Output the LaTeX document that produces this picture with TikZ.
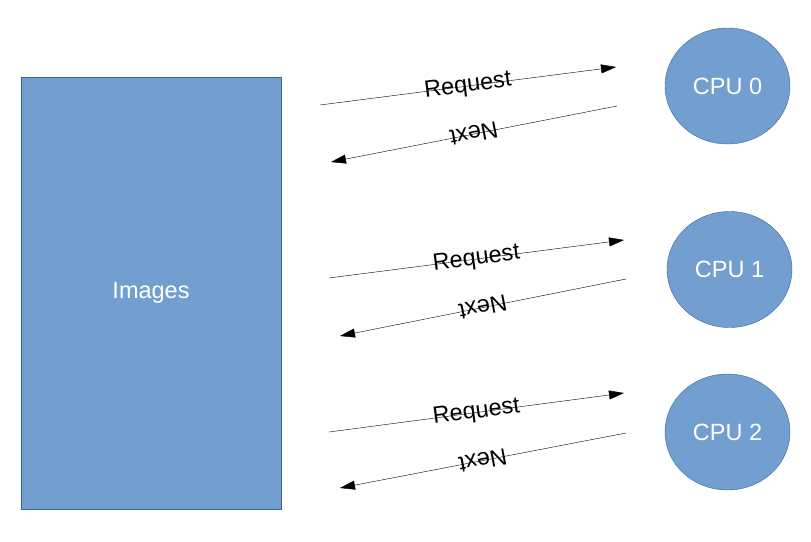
\documentclass[tikz,border=0pt]{standalone}
\usepackage{fontspec}
\setmainfont{Liberation Sans}
\usetikzlibrary{shapes.geometric, arrows.meta, positioning}
\definecolor{boxfill}{HTML}{729FCF}
\definecolor{boxline}{HTML}{3465A4}
\tikzstyle{store} = [rectangle, minimum width=260pt, minimum height=432pt, text centered, draw=boxline, fill=boxfill, text=white, font=\fontsize{23.5}{28}\selectfont]
\tikzstyle{cpu} = [ellipse, minimum width=125pt, minimum height=116pt, inner sep=0pt, text centered, draw=boxline, fill=boxfill, text=white, font=\fontsize{23.5}{28}\selectfont]
\tikzstyle{arrow} = [thin, -{Triangle[length=15pt,width=9pt]}]
\tikzstyle{msg} = [sloped, allow upside down, inner sep=0pt, font=\fontsize{23.5}{28}\selectfont]

\begin{document}
\begin{tikzpicture}[x=1pt, y=-1pt]
\useasboundingbox (0,0) rectangle (811,541);

\node (images) [store] at (151,293) {Images};
\node (cpu0) [cpu] at (727.5,86) {CPU 0};
\node (cpu1) [cpu] at (729.5,269.5) {CPU 1};
\node (cpu2) [cpu] at (727.5,432) {CPU 2};

\coordinate (req0s) at (320,105);
\coordinate (req0e) at (616,67);
\coordinate (nxt0s) at (617,106);
\coordinate (nxt0e) at (331,162);
\coordinate (req1s) at (329,278);
\coordinate (req1e) at (624,240);
\coordinate (nxt1s) at (626,279);
\coordinate (nxt1e) at (340,336);
\coordinate (req2s) at (329,432);
\coordinate (req2e) at (624,393);
\coordinate (nxt2s) at (626,433);
\coordinate (nxt2e) at (340,488);

\draw [arrow] (req0s) -- node [msg] {Request} (req0e);
\draw [arrow] (nxt0s) -- node [msg] {Next} (nxt0e);
\draw [arrow] (req1s) -- node [msg] {Request} (req1e);
\draw [arrow] (nxt1s) -- node [msg] {Next} (nxt1e);
\draw [arrow] (req2s) -- node [msg] {Request} (req2e);
\draw [arrow] (nxt2s) -- node [msg] {Next} (nxt2e);

\end{tikzpicture}
\end{document}
